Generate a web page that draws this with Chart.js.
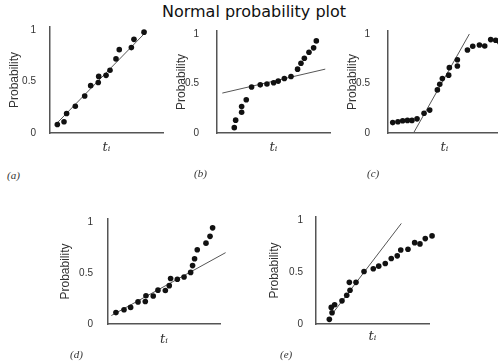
<!DOCTYPE html>
<html lang="en">
<head>
    <meta charset="UTF-8">
    <title>Normal probability plot</title>
    <script src="https://cdn.jsdelivr.net/npm/chart.js"></script>
    <style>
        html, body{margin:0; padding:0; background:#fff; overflow:hidden;}
        #main{position:relative; width:498px; height:363px; overflow:hidden;}
        #title{position:absolute; left:0; top:4px; width:508px; text-align:center;
               font:16px/16px "DejaVu Sans", sans-serif; color:#111;}
        .tag{position:absolute; font:italic 11px/13px "Liberation Serif", serif; color:#333;}
        canvas{position:absolute;}
    </style>
</head>
<body>
<div id="main">
    <div id="title">Normal probability plot</div>
</div>
<script>
// values (t scaled 0..1 along each x axis)
const tA = [0.065, 0.124, 0.147, 0.224, 0.307, 0.360, 0.427, 0.431, 0.496, 0.531, 0.584, 0.613, 0.720, 0.743, 0.832];
const pA = [0.083, 0.109, 0.19, 0.26, 0.36, 0.46, 0.49, 0.55, 0.56, 0.61, 0.72, 0.81, 0.83, 0.91, 0.98];
const fitTA = [0.044, 0.855];
const fitPA = [0.076, 0.988];

const tB = [0.153, 0.165, 0.218, 0.218, 0.259, 0.306, 0.383, 0.442, 0.501, 0.542, 0.596, 0.655, 0.713, 0.743, 0.773, 0.814, 0.855, 0.879];
const pB = [0.054, 0.130, 0.210, 0.267, 0.336, 0.464, 0.486, 0.495, 0.508, 0.524, 0.550, 0.571, 0.645, 0.705, 0.755, 0.816, 0.860, 0.930];
const fitTB = [0.047, 0.958];
const fitPB = [0.403, 0.645];

const tC = [0.042, 0.088, 0.130, 0.172, 0.212, 0.257, 0.319, 0.369, 0.437, 0.458, 0.481, 0.537, 0.543, 0.614, 0.614, 0.703, 0.750, 0.809, 0.856, 0.909, 0.953, 0.99];
const pC = [0.105, 0.114, 0.124, 0.127, 0.127, 0.143, 0.200, 0.231, 0.435, 0.492, 0.55, 0.584, 0.660, 0.676, 0.740, 0.838, 0.876, 0.889, 0.879, 0.943, 0.937, 0.917];
const fitTC = [0.226, 0.72];
const fitPC = [0, 1.0];

const tD = [0.071, 0.143, 0.202, 0.268, 0.333, 0.339, 0.404, 0.446, 0.512, 0.547, 0.559, 0.619, 0.679, 0.738, 0.755, 0.773, 0.797, 0.875, 0.911, 0.934];
const pD = [0.112, 0.140, 0.163, 0.217, 0.220, 0.277, 0.274, 0.332, 0.328, 0.376, 0.446, 0.439, 0.461, 0.506, 0.573, 0.640, 0.729, 0.793, 0.860, 0.943];
const fitTD = [0.03, 1.05];
const fitPD = [0.083, 0.70];

const tE = [0.118, 0.142, 0.135, 0.165, 0.230, 0.272, 0.301, 0.295, 0.354, 0.425, 0.507, 0.555, 0.613, 0.666, 0.719, 0.750, 0.814, 0.873, 0.920, 0.967, 1.027];
const pE = [0.045, 0.108, 0.160, 0.185, 0.223, 0.277, 0.325, 0.401, 0.401, 0.506, 0.532, 0.557, 0.583, 0.630, 0.656, 0.713, 0.719, 0.783, 0.771, 0.822, 0.848];
const fitTE = [0.142, 0.755];
const fitPE = [0.095, 0.968];

const yTicks = [0, 0.5, 1];
const yTitle = "Probability";
const xTitle = "tᵢ";

// layout of each little plot: axis corner, axis length, label offsets
const panels = [
    {tag:"(a)", t:tA, p:pA, ft:fitTA, fp:fitPA, x:50,  y:25,  w:113, probOff:35, gap:6,  tOff:15, tagX:7,   tagY:169},
    {tag:"(b)", t:tB, p:pB, ft:fitTB, fp:fitPB, x:217, y:25,  w:113, probOff:35, gap:10, tOff:15, tagX:194, tagY:167},
    {tag:"(c)", t:tC, p:pC, ft:fitTC, fp:fitPC, x:388, y:25,  w:113, probOff:35, gap:10, tOff:15, tagX:367, tagY:167},
    {tag:"(d)", t:tD, p:pD, ft:fitTD, fp:fitPD, x:108, y:216, w:112, probOff:42, gap:7,  tOff:16, tagX:70,  tagY:348},
    {tag:"(e)", t:tE, p:pE, ft:fitTE, fp:fitPE, x:316, y:216, w:113, probOff:41, gap:5,  tOff:13, tagX:280, tagY:348}
];

const YW = 55, XH = 30, PADT = 10, PADR = 14, AREAH = 108;
const main = document.getElementById("main");

panels.forEach(function(pn){
    const cv = document.createElement("canvas");
    cv.width = YW + pn.w + PADR;
    cv.height = PADT + AREAH + XH;
    cv.style.left = (pn.x - YW) + "px";
    cv.style.top = (pn.y - PADT) + "px";
    main.appendChild(cv);

    const tag = document.createElement("div");
    tag.className = "tag";
    tag.textContent = pn.tag;
    tag.style.left = pn.tagX + "px";
    tag.style.top = pn.tagY + "px";
    main.appendChild(tag);

    const pts = pn.t.map((v, i) => ({x: v, y: pn.p[i]}));
    const fit = pn.ft.map((v, i) => ({x: v, y: pn.fp[i]}));

    new Chart(cv, {
        type: "scatter",
        data: {
            datasets: [{
                data: pts,
                pointRadius: 2.8,
                pointBackgroundColor: "#111",
                pointBorderWidth: 0,
                clip: false
            }, {
                data: fit,
                showLine: true,
                pointRadius: 0,
                borderColor: "#555",
                borderWidth: 1,
                clip: false
            }]
        },
        options: {
            responsive: false,
            animation: false,
            devicePixelRatio: 1,
            layout: {padding: {left: 0, top: PADT, right: PADR, bottom: 0}},
            plugins: {legend: {display: false}, tooltip: {enabled: false}},
            scales: {
                x: {
                    type: "linear", min: 0, max: 1,
                    grid: {display: false},
                    border: {color: "#555", width: 1.5},
                    ticks: {display: false},
                    title: {display: true, text: xTitle, color: "#333",
                            font: {family: "DejaVu Serif", style: "italic", size: 13},
                            padding: {top: 0, bottom: XH - pn.tOff - 7.8}},
                    afterFit: function(s){ s.height = XH; }
                },
                y: {
                    type: "linear", min: 0, max: 1.03,
                    grid: {display: false},
                    border: {color: "#555", width: 1.5},
                    afterBuildTicks: function(s){ s.ticks = yTicks.map(v => ({value: v})); },
                    ticks: {color: "#333", padding: pn.gap,
                            font: {family: "Liberation Sans", size: 10},
                            callback: v => String(v)},
                    title: {display: true, text: yTitle, color: "#333",
                            font: {family: "Liberation Sans", size: 12},
                            padding: {top: YW - pn.probOff - 7.2, bottom: 0}},
                    afterFit: function(s){ s.width = YW; }
                }
            }
        }
    });
});
</script>
</body>
</html>
